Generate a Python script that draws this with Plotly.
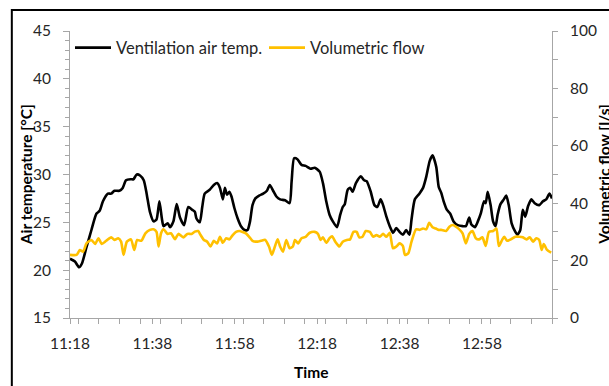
import pandas as pd
import plotly.graph_objects as go

# minutes after 11:18 and ventilation air temperature [°C]
temp_min = [0.0, 1.2, 2.2, 2.9, 4.0, 5.2, 6.4, 7.2, 8.0, 9.2, 10.0, 10.8, 12.0, 12.8, 13.6, 14.8,
            15.4, 16.2, 17.0, 17.9, 18.6, 19.4, 20.3, 21.0, 21.7, 22.3, 22.7, 23.7, 24.3, 25.1,
            25.9, 26.7, 27.7, 28.7, 29.7, 30.3, 30.7, 31.5, 32.1, 32.7, 33.9, 34.9, 35.7, 36.4,
            37.1, 37.6, 38.1, 38.7, 39.2, 39.9, 40.7, 41.5, 42.4, 43.1, 43.7, 44.3, 45.0, 45.9,
            46.9, 47.8, 48.5, 49.3, 50.1, 51.0, 52.2, 53.3, 53.8, 54.4, 55.2, 56.2, 57.2, 58.4,
            59.4, 60.6, 61.4, 62.2, 63.0, 63.8, 64.8, 65.6, 66.2, 66.7, 67.4, 68.0, 68.6, 69.4,
            70.6, 71.4, 72.0, 73.0, 73.9, 74.6, 75.4, 76.0, 76.8, 77.8, 78.4, 79.2, 80.0, 80.8,
            81.6, 82.4, 82.9, 83.7, 84.8, 85.7, 86.5, 87.3, 88.0, 88.9, 89.5, 90.1, 90.7, 91.5,
            92.3, 93.1, 94.1, 95.3, 96.1, 96.9, 97.4, 98.3, 99.0, 99.7, 100.5, 100.9, 101.4,
            102.1, 102.7, 103.3, 103.8, 104.5, 105.3, 105.9, 106.5, 107.2, 108.1, 108.6, 109.3,
            109.9, 110.5, 111.2, 112.0, 112.8, 113.9, 114.8, 115.6, 116.4, 117.0]
temp_val = [21.2, 20.9, 20.3, 20.7, 22.4, 24.2, 25.9, 26.2, 27.2, 28.0, 28.0, 28.3, 28.3, 28.6, 29.4, 29.5,
            29.5, 30.0, 29.9, 29.4, 28.0, 26.1, 25.1, 25.3, 27.2, 25.4, 24.6, 24.9, 24.5, 25.1,
            26.9, 25.5, 24.7, 26.6, 26.3, 26.1, 25.4, 25.0, 26.6, 28.0, 28.4, 28.9, 29.1, 28.6,
            27.4, 28.6, 27.9, 28.2, 27.7, 26.5, 25.4, 24.6, 24.2, 24.2, 25.1, 26.8, 27.5, 27.8,
            28.0, 28.3, 28.9, 28.3, 27.7, 27.4, 27.3, 27.0, 29.3, 31.7, 31.6, 31.0, 30.9, 30.6,
            30.7, 30.3, 29.1, 27.2, 25.8, 25.1, 24.5, 25.8, 26.6, 26.9, 28.4, 28.6, 28.2, 29.1,
            29.8, 29.4, 29.3, 28.2, 26.8, 26.6, 27.4, 26.8, 25.6, 24.4, 23.9, 24.4, 24.0, 23.7,
            24.2, 23.7, 25.3, 27.4, 28.0, 28.6, 29.8, 31.4, 32.0, 30.8, 28.7, 28.1, 27.2, 26.3,
            25.9, 25.1, 24.7, 24.6, 24.6, 25.5, 24.8, 24.5, 25.1, 25.9, 27.2, 27.0, 28.2,
            26.8, 25.1, 24.6, 25.8, 26.9, 27.4, 27.8, 26.8, 24.9, 24.0, 23.7, 24.2,
            26.3, 25.6, 26.7, 27.4, 27.0, 26.8, 27.2, 27.4, 28.0, 27.5]

# minutes after 11:18 and volumetric flow [l/s]
flow_min = [0.0, 1.6, 2.4, 3.2, 4.0, 5.2, 6.1, 6.9, 7.7, 8.8, 10.0, 10.8, 11.7, 12.4, 13.0, 13.8,
            14.8, 15.6, 16.3, 17.3, 18.3, 19.4, 20.3, 21.0, 21.5, 22.1, 22.7, 23.7, 24.5, 25.5,
            26.3, 27.5, 28.5, 29.5, 30.3, 31.1, 31.7, 32.5, 33.3, 34.1, 34.9, 35.7, 36.4, 37.1,
            37.9, 38.7, 39.5, 40.3, 41.1, 41.9, 42.7, 43.5, 44.3, 45.5, 46.4, 47.4, 48.3, 49.0,
            49.6, 50.4, 51.0, 51.7, 52.5, 53.3, 54.1, 54.6, 55.4, 56.2, 57.2, 58.2, 59.4, 60.2,
            60.8, 61.4, 62.2, 63.0, 63.6, 64.4, 65.4, 66.2, 67.2, 68.0, 68.8, 69.6, 70.2, 71.0,
            71.8, 72.8, 73.6, 74.4, 75.2, 76.0, 76.8, 77.6, 78.4, 79.2, 80.0, 80.8, 81.3, 82.1,
            82.9, 84.0, 84.9, 85.7, 86.5, 87.2, 88.0, 88.8, 89.5, 90.1, 91.3, 92.1, 92.9, 93.7,
            94.5, 95.3, 96.1, 96.9, 97.7, 98.5, 99.3, 100.1, 100.9, 101.7, 102.7, 103.5, 104.1,
            104.9, 105.4, 106.1, 107.0, 108.1, 109.1, 109.9, 110.8, 111.6, 112.4, 113.2, 113.9,
            114.5, 115.0, 115.8, 116.8]
flow_val = [22.0, 22.0, 23.7, 23.1, 26.0, 27.2, 25.8, 27.8, 25.8, 26.9, 28.1, 27.2, 27.8, 26.6, 22.0, 26.6,
            27.4, 23.7, 27.2, 26.9, 29.5, 30.7, 30.9, 30.0, 24.9, 29.5, 30.9, 29.3, 29.5, 27.5,
            29.3, 28.1, 29.3, 29.3, 30.1, 30.3, 28.9, 27.2, 26.6, 24.9, 26.9, 26.0, 28.3, 26.2,
            27.8, 27.4, 28.9, 30.0, 30.3, 30.0, 29.5, 28.3, 26.9, 26.6, 26.9, 27.2, 24.9, 22.0,
            24.3, 27.4, 24.9, 23.1, 27.2, 24.3, 24.9, 27.2, 26.0, 27.8, 28.3, 29.7, 30.0, 29.3,
            27.2, 28.1, 26.2, 27.8, 28.5, 26.6, 24.9, 26.6, 27.2, 27.4, 30.0, 30.0, 28.1, 28.3,
            30.3, 30.0, 28.3, 28.9, 28.3, 29.3, 28.3, 29.7, 24.3, 24.9, 26.0, 25.1, 22.0, 22.5,
            26.6, 30.9, 30.7, 31.2, 30.9, 33.2, 31.6, 31.2, 30.7, 30.7, 30.3, 31.8, 32.4, 31.8,
            30.9, 29.5, 26.0, 29.3, 30.3, 27.8, 27.4, 28.1, 25.1, 30.0, 30.3, 31.2, 25.1,
            27.2, 28.3, 26.9, 27.4, 28.3, 28.3, 28.1, 27.4, 28.1, 26.6, 27.8, 27.2,
            23.7, 25.8, 23.7, 22.8]

start_time = "2000-01-01 11:18"
axis_start_min = 0
axis_end_min = 117

base = pd.Timestamp(start_time)
temp_t = [base + pd.Timedelta(minutes=m) for m in temp_min]
flow_t = [base + pd.Timedelta(minutes=m) for m in flow_min]
x_range = [base + pd.Timedelta(minutes=axis_start_min), base + pd.Timedelta(minutes=axis_end_min)]

FONT = "Lato"
TXT = "#262626"
AX = "#A6A6A6"

fig = go.Figure()
fig.add_trace(go.Scatter(x=temp_t, y=temp_val, name="Ventilation air temp.", mode="lines",
                         line=dict(color="black", width=2.6, shape="spline", smoothing=0.6)))
fig.add_trace(go.Scatter(x=flow_t, y=flow_val, name="Volumetric flow", mode="lines", yaxis="y2",
                         line=dict(color="#FFC000", width=2.6, shape="spline", smoothing=0.6)))

fig.update_layout(
    width=609, height=386,
    margin=dict(l=70, r=50, t=31, b=68),
    paper_bgcolor="white", plot_bgcolor="white",
    font=dict(family=FONT, size=15.5, color=TXT),
    showlegend=True,
    legend=dict(orientation="h", x=0.0, y=1.002, xanchor="left", yanchor="top",
                bgcolor="rgba(0,0,0,0)", font=dict(size=16.5, color=TXT),
                entrywidth=143, entrywidthmode="pixels", itemwidth=36),
    xaxis=dict(type="date", range=x_range, tick0=base, dtick=20 * 60 * 1000,
               tickformat="%H:%M", showgrid=False, zeroline=False,
               showline=True, linecolor=AX, linewidth=1,
               ticks="outside", ticklen=5, tickcolor=AX,
               minor=dict(dtick=5 * 60 * 1000, ticks="outside", ticklen=5, tickcolor=AX),
               ticklabelstandoff=6),
    yaxis=dict(range=[15, 45], dtick=5, showgrid=False, zeroline=False,
               showline=True, linecolor=AX, linewidth=1,
               ticks="outside", ticklen=6, tickcolor=AX,
               minor=dict(dtick=1, ticks="outside", ticklen=4, tickcolor=AX),
               ticklabelstandoff=9),
    yaxis2=dict(range=[0, 100], dtick=20, overlaying="y", side="right",
                showgrid=False, zeroline=False,
                showline=True, linecolor=AX, linewidth=1,
                ticks="outside", ticklen=5, tickcolor=AX,
                minor=dict(dtick=10, ticks="outside", ticklen=5, tickcolor=AX),
                ticklabelstandoff=9),
)

# outer chart frame
fig.add_shape(type="rect", xref="paper", yref="paper", x0=-0.1207, x1=1.2, y0=-0.4, y1=1.0732,
              line=dict(color="black", width=2), fillcolor="rgba(0,0,0,0)", layer="below")

# axis titles
fig.add_annotation(text="<b>Air temperature [°C]</b>", xref="paper", yref="paper",
                   x=(25 - 70) / 489, y=0.5, xanchor="center", yanchor="middle",
                   textangle=-90, showarrow=False, font=dict(size=15.5, color="black"))
fig.add_annotation(text="<b>Volumetric flow [l/s]</b>", xref="paper", yref="paper",
                   x=(611 - 70) / 489, y=0.5, xanchor="center", yanchor="middle",
                   textangle=-90, showarrow=False, font=dict(size=15.5, color="black"))
fig.add_annotation(text="<b>Time</b>", xref="paper", yref="paper",
                   x=0.5, y=(318 - 372) / 287, xanchor="center", yanchor="middle",
                   showarrow=False, font=dict(size=15.5, color="black"))

fig.write_html("out.html")
